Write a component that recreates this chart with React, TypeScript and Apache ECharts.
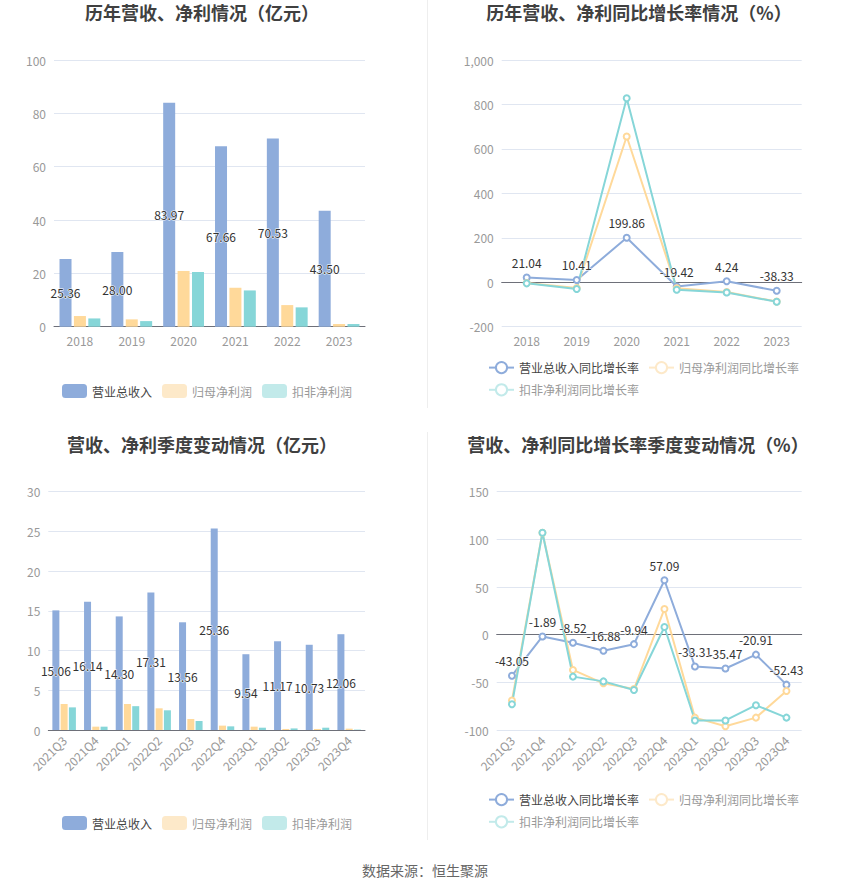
import React, { useEffect, useRef } from 'react';
import * as echarts from 'echarts';

const years = ['2018', '2019', '2020', '2021', '2022', '2023'];
const yearRevenue = [25.36, 28.0, 83.97, 67.66, 70.53, 43.5];
const yearNetProfit = [4.0, 2.75, 20.9, 14.6, 8.1, 1.0];
const yearDeductedProfit = [3.1, 2.1, 20.5, 13.6, 7.25, 1.0];

const yearRevenueGrowth = [21.04, 10.41, 199.86, -19.42, 4.24, -38.33];
const yearNetProfitGrowth = [-3, -26, 656, -27, -44, -87];
const yearDeductedGrowth = [-5, -30, 828, -34, -46, -88];

const quarters = ['2021Q3', '2021Q4', '2022Q1', '2022Q2', '2022Q3', '2022Q4', '2023Q1', '2023Q2', '2023Q3', '2023Q4'];
const qRevenue = [15.06, 16.14, 14.3, 17.31, 13.56, 25.36, 9.54, 11.17, 10.73, 12.06];
const qNetProfit = [3.27, 0.42, 3.27, 2.73, 1.38, 0.55, 0.42, 0.13, 0.13, 0.17];
const qDeducted = [2.85, 0.42, 3.0, 2.48, 1.13, 0.46, 0.29, 0.2, 0.29, 0.05];

const qRevenueGrowth = [-43.05, -1.89, -8.52, -16.88, -9.94, 57.09, -33.31, -35.47, -20.91, -52.43];
const qNetProfitGrowth = [-69, 107, -37, -51, -57, 27, -87, -96, -87, -59];
const qDeductedGrowth = [-73, 107, -44, -49, -58, 8, -90, -90, -74, -87];

const barNames = ['营业总收入', '归母净利润', '扣非净利润'];
const lineNames = ['营业总收入同比增长率', '归母净利润同比增长率', '扣非净利润同比增长率'];
const titles = ['历年营收、净利情况（亿元）', '历年营收、净利同比增长率情况（%）', '营收、净利季度变动情况（亿元）', '营收、净利同比增长率季度变动情况（%）'];
const footer = '数据来源：恒生聚源';

const BLUE = '#8eacdb';
const ORANGE = '#ffd99a';
const TEAL = '#86d6d8';
const PALE_ORANGE = '#fde9c9';
const PALE_TEAL = '#c2eaea';
const FONT = "'Noto Sans CJK SC', 'Noto Sans', sans-serif";

const gridLineColor = '#e0e6f1';
const axisLineColor = '#6e7079';
const labelGrey = '#999';

function valueLabel(): any {
  return {
    color: '#333',
    fontSize: 12,
    textBorderColor: '#fff',
    textBorderWidth: 1,
    formatter: (p: any) => Number(p.value).toFixed(2),
  };
}

function yAxis(gridIndex: number, min: number, max: number, interval: number): any {
  return {
    type: 'value',
    gridIndex,
    min,
    max,
    interval,
    axisLine: { show: false },
    axisTick: { show: false },
    axisLabel: { color: labelGrey, fontSize: 12 },
    splitLine: { lineStyle: { color: gridLineColor } },
  };
}

function barLegend(top: number): any {
  return {
    left: 62,
    top,
    padding: 0,
    itemWidth: 25,
    itemHeight: 14,
    itemGap: 10,
    icon: 'roundRect',
    textStyle: { fontSize: 12, fontFamily: FONT },
    data: [
      { name: barNames[0], itemStyle: { color: BLUE }, textStyle: { color: '#444' } },
      { name: barNames[1], itemStyle: { color: PALE_ORANGE }, textStyle: { color: labelGrey } },
      { name: barNames[2], itemStyle: { color: PALE_TEAL }, textStyle: { color: labelGrey } },
    ],
  };
}

function lineLegend(top: number): any {
  return {
    left: 488,
    top,
    width: 330,
    padding: 0,
    itemWidth: 25,
    itemHeight: 14,
    itemGap: 9,
    textStyle: { fontSize: 12, fontFamily: FONT },
    data: [
      { name: lineNames[0], itemStyle: { color: BLUE, borderColor: BLUE }, lineStyle: { color: BLUE }, textStyle: { color: '#444' } },
      { name: lineNames[1], itemStyle: { color: PALE_ORANGE, borderColor: PALE_ORANGE }, lineStyle: { color: PALE_ORANGE }, textStyle: { color: labelGrey } },
      { name: lineNames[2], itemStyle: { color: PALE_TEAL, borderColor: PALE_TEAL }, lineStyle: { color: PALE_TEAL }, textStyle: { color: labelGrey } },
    ],
  };
}

function barSeries(gridAxis: number, values: number[][], barWidth: number, barGap: string): any[] {
  const colors = [BLUE, ORANGE, TEAL];
  return values.map((vals, i) => ({
    type: 'bar',
    name: barNames[i],
    xAxisIndex: gridAxis,
    yAxisIndex: gridAxis,
    data: vals,
    barWidth,
    barGap,
    itemStyle: { color: colors[i] },
    label: i === 0 ? { show: true, position: 'inside', ...valueLabel() } : { show: false },
  }));
}

function lineSeries(xIdx: number, yIdx: number, values: number[][]): any[] {
  const colors = [BLUE, ORANGE, TEAL];
  return values.map((vals, i) => ({
    type: 'line',
    name: lineNames[i],
    xAxisIndex: xIdx,
    yAxisIndex: yIdx,
    data: vals,
    symbol: 'emptyCircle',
    symbolSize: 6,
    lineStyle: { width: 2, color: colors[i] },
    itemStyle: { color: colors[i] },
    label: i === 0 ? { show: true, position: 'top', ...valueLabel() } : { show: false },
  }));
}

export default function App() {
  const ref = useRef<HTMLDivElement>(null);
  useEffect(() => {
    if (!ref.current) return;
    const chart = echarts.init(ref.current, undefined, { renderer: 'svg' });
    const titleStyle = { fontSize: 18, fontWeight: 'bold', color: '#404040', fontFamily: FONT };
    const option: any = {
      animation: false,
      backgroundColor: '#fff',
      textStyle: { fontFamily: FONT },
      title: [
        { text: titles[0], left: 202, top: 3, textAlign: 'center', padding: 0, textStyle: titleStyle },
        { text: titles[1], left: 639, top: 3, textAlign: 'center', padding: 0, textStyle: titleStyle },
        { text: titles[2], left: 202, top: 435, textAlign: 'center', padding: 0, textStyle: titleStyle },
        { text: titles[3], left: 638, top: 435, textAlign: 'center', padding: 0, textStyle: titleStyle },
      ],
      legend: [barLegend(384), lineLegend(361), barLegend(816), lineLegend(793)],
      grid: [
        { left: 54, top: 60, width: 311, height: 266.7 },
        { left: 501.7, top: 60, width: 300, height: 266.7 },
        { left: 48.3, top: 491.7, width: 316.7, height: 238.3 },
        { left: 496.7, top: 491.7, width: 305, height: 238.3 },
      ],
      xAxis: [
        {
          type: 'category', gridIndex: 0, data: years,
          axisLine: { lineStyle: { color: axisLineColor } },
          axisTick: { alignWithLabel: true, lineStyle: { color: axisLineColor } },
          axisLabel: { color: labelGrey, fontSize: 12 },
        },
        {
          type: 'category', gridIndex: 1, data: years, position: 'bottom',
          axisLine: { show: false, onZero: false }, axisTick: { show: false },
          axisLabel: { color: labelGrey, fontSize: 12 },
        },
        {
          type: 'category', gridIndex: 2, data: quarters,
          axisLine: { lineStyle: { color: axisLineColor } },
          axisTick: { alignWithLabel: true, lineStyle: { color: axisLineColor } },
          axisLabel: { color: labelGrey, fontSize: 12, rotate: 45, interval: 0 },
        },
        {
          type: 'category', gridIndex: 3, data: quarters, position: 'bottom',
          axisLine: { show: false, onZero: false }, axisTick: { show: false },
          axisLabel: { color: labelGrey, fontSize: 12, rotate: 45, interval: 0 },
        },
        {
          type: 'category', gridIndex: 1, data: years, position: 'top',
          axisLine: { onZero: true, lineStyle: { color: axisLineColor } },
          axisTick: { inside: true, alignWithLabel: true, length: 5, lineStyle: { color: axisLineColor } },
          axisLabel: { show: false },
        },
        {
          type: 'category', gridIndex: 3, data: quarters, position: 'top',
          axisLine: { onZero: true, lineStyle: { color: axisLineColor } },
          axisTick: { inside: true, alignWithLabel: true, length: 5, interval: 0, lineStyle: { color: axisLineColor } },
          axisLabel: { show: false },
        },
      ],
      yAxis: [
        yAxis(0, 0, 100, 20),
        yAxis(1, -200, 1000, 200),
        yAxis(2, 0, 30, 5),
        yAxis(3, -100, 150, 50),
      ],
      series: [
        ...barSeries(0, [yearRevenue, yearNetProfit, yearDeductedProfit], 12, '20%'),
        ...lineSeries(1, 1, [yearRevenueGrowth, yearNetProfitGrowth, yearDeductedGrowth]),
        ...barSeries(2, [qRevenue, qNetProfit, qDeducted], 7, '18%'),
        ...lineSeries(3, 3, [qRevenueGrowth, qNetProfitGrowth, qDeductedGrowth]),
      ],
      graphic: [
        { type: 'line', shape: { x1: 427.5, y1: 0, x2: 427.5, y2: 408 }, style: { stroke: '#eeeeee', lineWidth: 1 } },
        { type: 'line', shape: { x1: 427.5, y1: 432, x2: 427.5, y2: 840 }, style: { stroke: '#eeeeee', lineWidth: 1 } },
        {
          type: 'text', x: 425, y: 870,
          style: { text: footer, fill: '#666', fontSize: 14, fontFamily: FONT, textAlign: 'center', textVerticalAlign: 'middle' },
        },
      ],
    };
    chart.setOption(option);
    return () => chart.dispose();
  }, []);
  return <div ref={ref} style={{ position: 'absolute', left: 0, top: 0, width: 850, height: 891 }} />;
}
